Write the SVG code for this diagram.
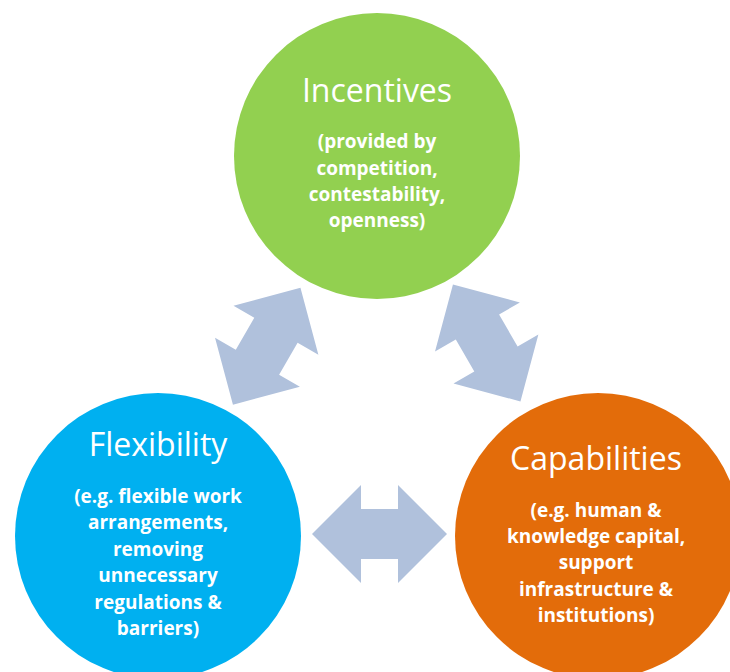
<svg xmlns="http://www.w3.org/2000/svg" width="730" height="672" viewBox="0 0 730 672">
<style>
.title{font-family:"Open Sans","Liberation Sans",sans-serif;font-size:32px;fill:#fff;text-anchor:middle}
.sub{font-family:"Open Sans","Liberation Sans",sans-serif;font-size:19px;font-weight:bold;fill:#fff;text-anchor:middle}
.arrow{fill:#B0C1DC}
</style>
<defs>
<path id="dblarrow" d="M -67.5 0 L -18.5 -49 L -18.5 -25 L 18.5 -25 L 18.5 -49 L 67.5 0 L 18.5 49 L 18.5 25 L -18.5 25 L -18.5 49 Z"/>
</defs>
<rect width="730" height="672" fill="#fff"/>
<g id="connectors">
<use href="#dblarrow" class="arrow" transform="translate(266.7,346.3) rotate(-60)"/>
<use href="#dblarrow" class="arrow" transform="translate(486.7,343) rotate(60)"/>
<use href="#dblarrow" class="arrow" transform="translate(379.5,534)"/>
</g>
<g id="incentives">
<circle cx="377" cy="156" r="143" fill="#92D050"/>
<text class="title" x="377" y="102">Incentives</text>
<text class="sub" x="377" y="148">(provided by</text>
<text class="sub" x="377" y="175">competition,</text>
<text class="sub" x="377" y="201">contestability,</text>
<text class="sub" x="377" y="227">openness)</text>
</g>
<g id="flexibility">
<circle cx="158" cy="536" r="143" fill="#00B0F0"/>
<text class="title" x="158" y="456">Flexibility</text>
<text class="sub" x="158" y="503">(e.g. flexible work</text>
<text class="sub" x="158" y="529">arrangements,</text>
<text class="sub" x="158" y="556">removing</text>
<text class="sub" x="158" y="582">unnecessary</text>
<text class="sub" x="158" y="609">regulations &amp;</text>
<text class="sub" x="158" y="635">barriers)</text>
</g>
<g id="capabilities">
<circle cx="598" cy="536" r="143" fill="#E36C0A"/>
<text class="title" x="596" y="470">Capabilities</text>
<text class="sub" x="596" y="517">(e.g. human &amp;</text>
<text class="sub" x="596" y="543">knowledge capital,</text>
<text class="sub" x="596" y="569">support</text>
<text class="sub" x="596" y="596">infrastructure &amp;</text>
<text class="sub" x="596" y="622">institutions)</text>
</g>
</svg>
